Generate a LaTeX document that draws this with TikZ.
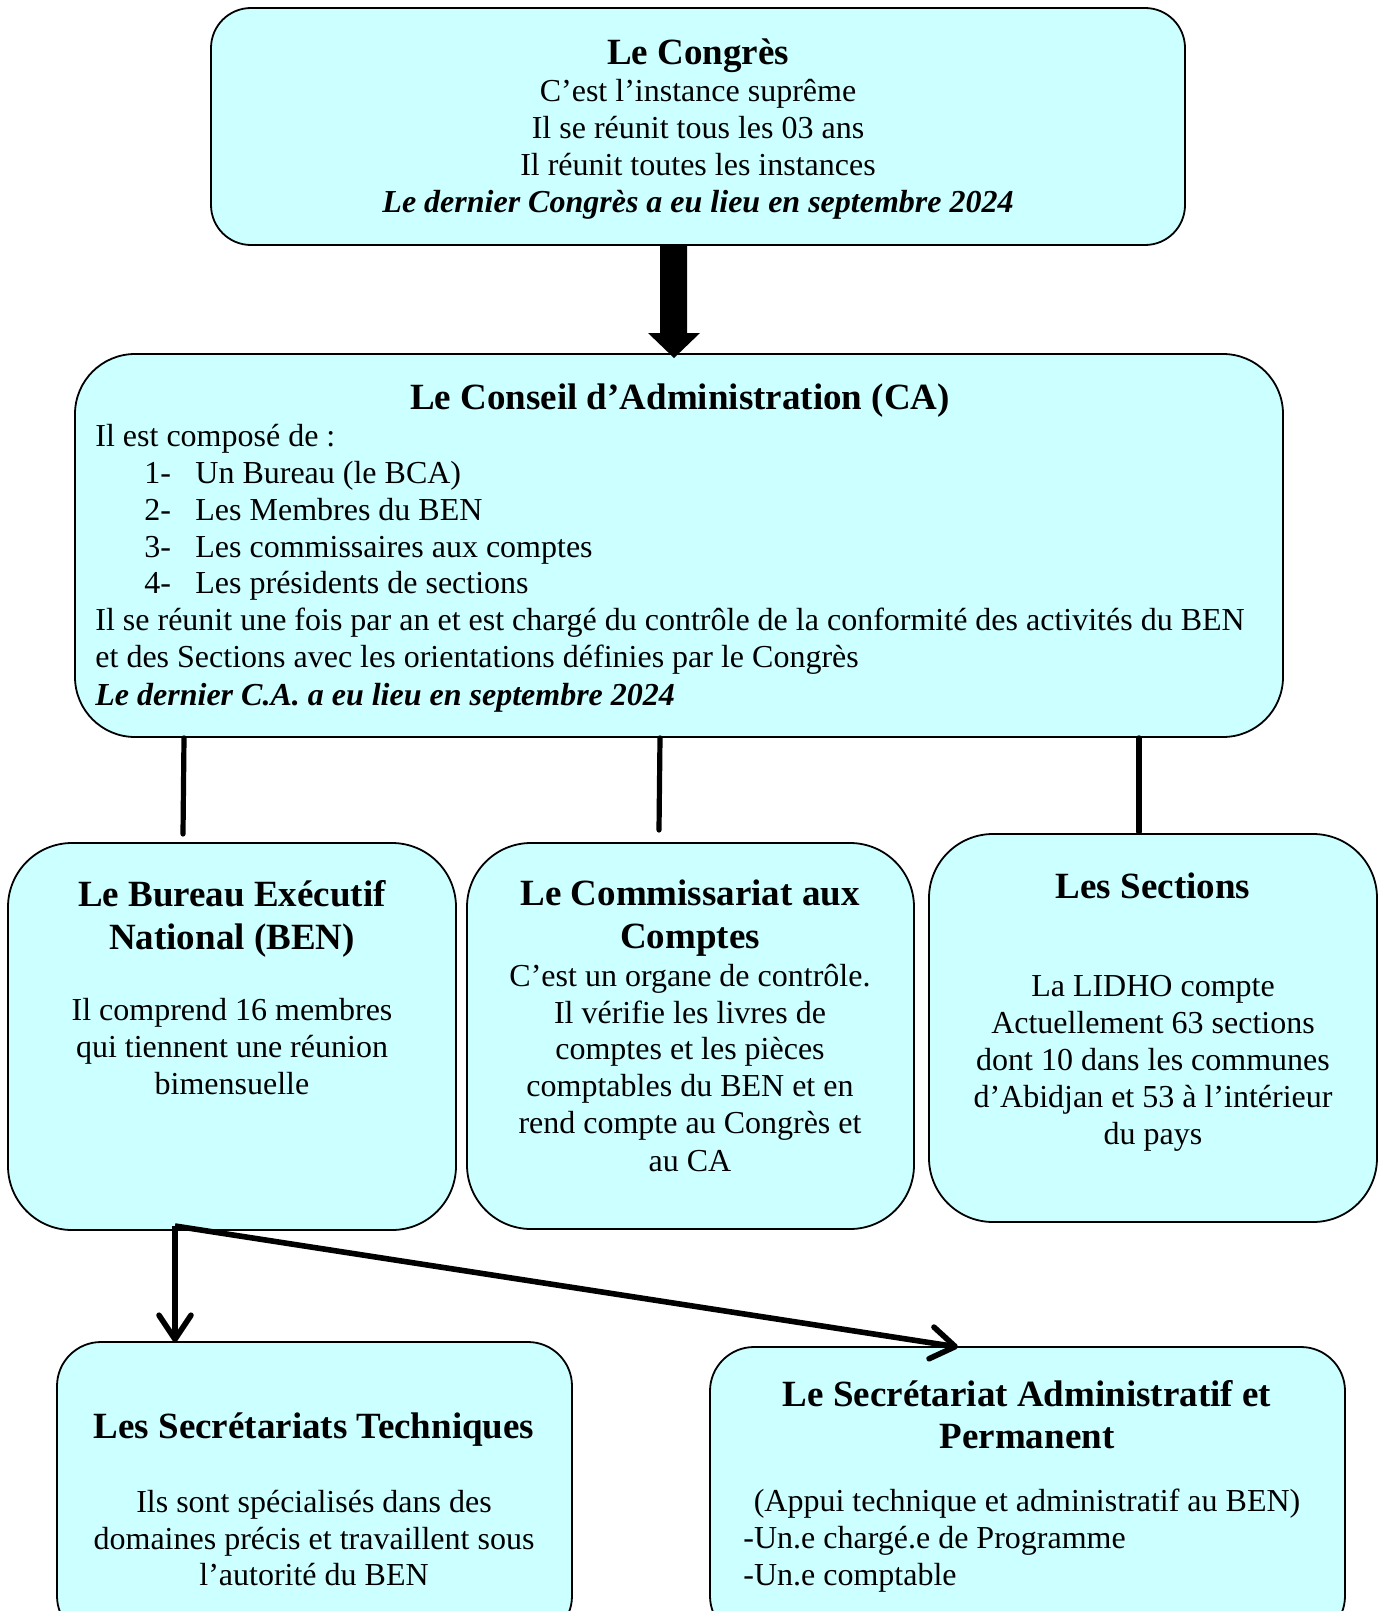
\documentclass[tikz,border=0pt]{standalone}
\usepackage{fontspec}
\setmainfont{Liberation Serif}
\usetikzlibrary{arrows.meta}
\definecolor{boxfill}{HTML}{CCFFFF}
\begin{document}
\begin{tikzpicture}[x=0.5pt,y=-0.5pt,
  box/.style={draw=black,line width=0.9pt,fill=boxfill,inner sep=0pt,rectangle},
  txt/.style={font=\fontsize{16}{18.5}\selectfont,anchor=base,inner sep=0pt},
  txtl/.style={txt,anchor=base west},
  ttl/.style={font=\fontsize{18.5}{21.5}\selectfont\bfseries,anchor=base,inner sep=0pt},
  conn/.style={line width=2.6pt,line cap=round},
  arr/.style={line width=2.8pt,-{Straight Barb[length=12pt,width=16pt,round]}}]
\useasboundingbox (0,0) rectangle (1381,1611);
\clip (0,0) rectangle (1381,1611);
\fill[white] (0,0) rectangle (1381,1611);

% boxes
\node[box,rounded corners=20pt,minimum width=487pt,minimum height=118.5pt] (congres) at (698,126.5) {};
\node[box,rounded corners=30pt,minimum width=604pt,minimum height=191.5pt] (ca) at (679,545.5) {};
\node[box,rounded corners=32pt,minimum width=224pt,minimum height=193.5pt] (ben) at (232,1036.5) {};
\node[box,rounded corners=32pt,minimum width=223.5pt,minimum height=193pt] (comm) at (690.5,1036) {};
\node[box,rounded corners=32pt,minimum width=224pt,minimum height=194pt] (sect) at (1153,1028) {};
\node[box,rounded corners=22pt,minimum width=257.5pt,minimum height=149pt] (sectech) at (314.5,1491) {};
\node[box,rounded corners=22pt,minimum width=317.5pt,minimum height=146.5pt] (secadm) at (1027.5,1493.5) {};

% thick arrow Congres -> CA
\fill[black] (660,245) -- (687,245) -- (687,333) -- (700,333) -- (674,358) -- (648,333) -- (660,333) -- cycle;

% connectors CA -> lower boxes
\coordinate (c1) at (183,834);
\coordinate (c2) at (659,830);
\coordinate (c3) at (1139,832);
\draw[conn] (ca.south -| 184,0) -- (c1);
\draw[conn] (ca.south -| 660,0) -- (c2);
\draw[conn] (ca.south -| 1139,0) -- (c3);

% arrows from BEN
\coordinate (bstart) at (175,1226);
\coordinate (t1) at (175,1342);
\coordinate (t2) at (958,1347);
\draw[arr] (bstart) -- (t1);
\draw[arr] (bstart) -- (t2);

% Congres text
\node[ttl] (cg0) at (698,65) {Le Congrès};
\node[txt] (cg1) at (698,102) {C’est l’instance suprême};
\node[txt] (cg2) at (698,139) {Il se réunit tous les 03 ans};
\node[txt] (cg3) at (698,176) {Il réunit toutes les instances};
\node[txt,font=\fontsize{16}{18.5}\selectfont\bfseries\itshape] (cg4) at (698,212) {Le dernier Congrès a eu lieu en septembre 2024};

% CA text
\node[ttl] (ca0) at (680,409) {Le Conseil d’Administration (CA)};
\node[txtl] (ca1) at (95,446) {Il est composé de :};
\node[txtl] (n1) at (144,483) {1-};
\node[txtl] (ca2) at (195,483) {Un Bureau (le BCA)};
\node[txtl] (n2) at (144,520) {2-};
\node[txtl] (ca3) at (195,520) {Les Membres du BEN};
\node[txtl] (n3) at (144,557) {3-};
\node[txtl] (ca4) at (195,557) {Les commissaires aux comptes};
\node[txtl] (n4) at (144,593) {4-};
\node[txtl] (ca5) at (195,593) {Les présidents de sections};
\node[txtl] (ca6) at (95,630) {Il se réunit une fois par an et est chargé du contrôle de la conformité des activités du BEN};
\node[txtl] (ca7) at (95,667) {et des Sections avec les orientations définies par le Congrès};
\node[txtl,font=\fontsize{16}{18.5}\selectfont\bfseries\itshape] (ca8) at (95,705) {Le dernier C.A. a eu lieu en septembre 2024};

% BEN text
\node[ttl] (b0) at (232,906) {Le Bureau Exécutif};
\node[ttl] (b1) at (232,949) {National (BEN)};
\node[txt] (b2) at (232,1020) {Il comprend 16 membres};
\node[txt] (b3) at (232,1057) {qui tiennent une réunion};
\node[txt] (b4) at (232,1094) {bimensuelle};

% Commissariat text
\node[ttl] (m0) at (690,905) {Le Commissariat aux};
\node[ttl] (m1) at (690,948) {Comptes};
\node[txt] (m2) at (690,986) {C’est un organe de contrôle.};
\node[txt] (m3) at (690,1023) {Il vérifie les livres de};
\node[txt] (m4) at (690,1059) {comptes et les pièces};
\node[txt] (m5) at (690,1096) {comptables du BEN et en};
\node[txt] (m6) at (690,1133) {rend compte au Congrès et};
\node[txt] (m7) at (690,1171) {au CA};

% Sections text
\node[ttl] (s0) at (1153,898) {Les Sections};
\node[txt] (s1) at (1153,996) {La LIDHO compte};
\node[txt] (s2) at (1153,1033) {Actuellement 63 sections};
\node[txt] (s3) at (1153,1070) {dont 10 dans les communes};
\node[txt] (s4) at (1153,1107) {d’Abidjan et 53 à l’intérieur};
\node[txt] (s5) at (1153,1144) {du pays};

% Secretariats Techniques text
\node[ttl] (t0) at (314,1438) {Les Secrétariats Techniques};
\node[txt] (t3) at (314,1512) {Ils sont spécialisés dans des};
\node[txt] (t4) at (314,1549) {domaines précis et travaillent sous};
\node[txt] (t5) at (314,1585) {l’autorité du BEN};

% Secretariat Administratif text
\node[ttl] (a0) at (1027,1406) {Le Secrétariat Administratif et};
\node[ttl] (a1) at (1027,1448) {Permanent};
\node[txt] (a2) at (1027,1511) {(Appui technique et administratif au BEN)};
\node[txtl] (a3) at (743,1548) {-Un.e chargé.e de Programme};
\node[txtl] (a4) at (743,1585) {-Un.e comptable};
\end{tikzpicture}
\end{document}
